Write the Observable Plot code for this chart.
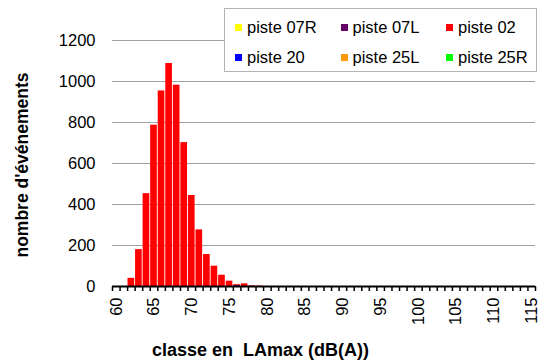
<!DOCTYPE html>
<html><head><meta charset="utf-8">
<script src="https://cdn.jsdelivr.net/npm/d3@7"></script>
<script src="https://cdn.jsdelivr.net/npm/@observablehq/plot@0.6"></script>
<style>
body{margin:0;background:#fff;}
#wrap{position:relative;width:541px;height:360px;font-family:"Liberation Sans",Arial,sans-serif;color:#000;}
#wrap svg{position:absolute;left:0;top:0;}
.legend{position:absolute;left:224px;top:8px;width:313px;height:64px;border:1px solid #b4b4b4;background:#fff;box-sizing:border-box;}
.item{position:absolute;display:flex;align-items:center;font-size:16.5px;white-space:nowrap;height:20px;}
.sw{width:7px;height:7px;margin-right:5px;}
.ytitle{position:absolute;left:22px;top:165px;transform:translate(-50%,-50%) rotate(-90deg);font-weight:bold;font-size:17.5px;white-space:nowrap;}
.xtitle{position:absolute;left:152px;top:340px;font-weight:bold;font-size:18px;white-space:pre;}
</style></head><body><div id="wrap"></div>
<script>
// Data
const classes = [62, 63, 64, 65, 66, 67, 68, 69, 70, 71, 72, 73, 74, 75, 76, 77, 78, 79];
const seriesNames = ["piste 07R", "piste 07L", "piste 02", "piste 20", "piste 25L", "piste 25R"];
const seriesColors = ["#ffff00", "#660066", "#ff0000", "#0000ff", "#ff9900", "#00ff00"];
const piste07R = [0,0,0,0,0,0,0,0,0,0,0,0,0,0,0,0,0,0];
const piste07L = [0,0,0,0,0,0,0,0,0,0,0,0,0,0,6,0,0,0];
const piste02  = [40,180,453,787,954,1088,982,702,444,276,156,99,55,26,4,13,3,2];
const piste20  = [0,0,0,0,0,0,0,0,0,0,0,0,0,0,0,0,0,0];
const piste25L = [0,0,0,0,0,0,0,0,0,0,0,0,0,0,0,0,0,0];
const piste25R = [0,0,0,0,0,0,0,0,0,0,0,0,0,0,0,0,0,0];
const xTickLabels = [60, 65, 70, 75, 80, 85, 90, 95, 100, 105, 110, 115];
const xFirst = 60, xLast = 115;
const yTicks = [0, 200, 400, 600, 800, 1000, 1200];

const seriesValues = [piste07R, piste07L, piste02, piste20, piste25L, piste25R];
const long = [];
seriesNames.forEach((s, si) => classes.forEach((c, ci) => long.push({cls: c, series: s, value: seriesValues[si][ci]})));
const boundaries = d3.range(xFirst - 0.5, xLast + 1, 1);

const plot = Plot.plot({
  width: 541, height: 360,
  marginLeft: 112, marginRight: 6, marginTop: 40, marginBottom: 74,
  style: {fontFamily: '"Liberation Sans", Arial, sans-serif', fontSize: "16.5px", color: "#000", background: "transparent"},
  x: {type: "linear", domain: [xFirst - 0.5, xLast + 0.5]},
  y: {domain: [0, 1200]},
  color: {domain: seriesNames, range: seriesColors},
  marks: [
    Plot.ruleY(yTicks.filter(d => d > 0), {stroke: "#a0a0a0", strokeWidth: 1}),
    Plot.rectY(long, {x1: d => d.cls - 0.5, x2: d => d.cls + 0.5, y: "value", fill: "series", insetLeft: 0.4, insetRight: 0.5}),
    Plot.ruleY([0], {stroke: "#000", strokeWidth: 2}),
    Plot.axisX({ticks: boundaries, tickFormat: () => "", tickSize: 5, strokeWidth: 1.5, label: null}),
    Plot.axisX({ticks: xTickLabels, tickFormat: d => String(d), tickSize: 0, tickPadding: 11, tickRotate: -90, label: null}),
    Plot.axisY({ticks: yTicks, tickFormat: d => String(d), tickSize: 0, tickPadding: 17, label: null})
  ]
});
const wrap = document.getElementById("wrap");
wrap.appendChild(plot);

const yt = document.createElement("div"); yt.className = "ytitle"; yt.textContent = "nombre d'événements"; wrap.appendChild(yt);
const xt = document.createElement("div"); xt.className = "xtitle"; xt.textContent = "classe en  LAmax (dB(A))"; wrap.appendChild(xt);

const lg = document.createElement("div"); lg.className = "legend"; wrap.appendChild(lg);
seriesNames.forEach((s, i) => {
  const col = i % 3, row = Math.floor(i / 3);
  const it = document.createElement("div"); it.className = "item";
  it.style.left = (10 + col * 105.5) + "px";
  it.style.top = (8 + row * 30.5) + "px";
  const sw = document.createElement("span"); sw.className = "sw"; sw.style.background = seriesColors[i];
  const tx = document.createElement("span"); tx.textContent = s;
  it.appendChild(sw); it.appendChild(tx); lg.appendChild(it);
});
</script></body></html>
